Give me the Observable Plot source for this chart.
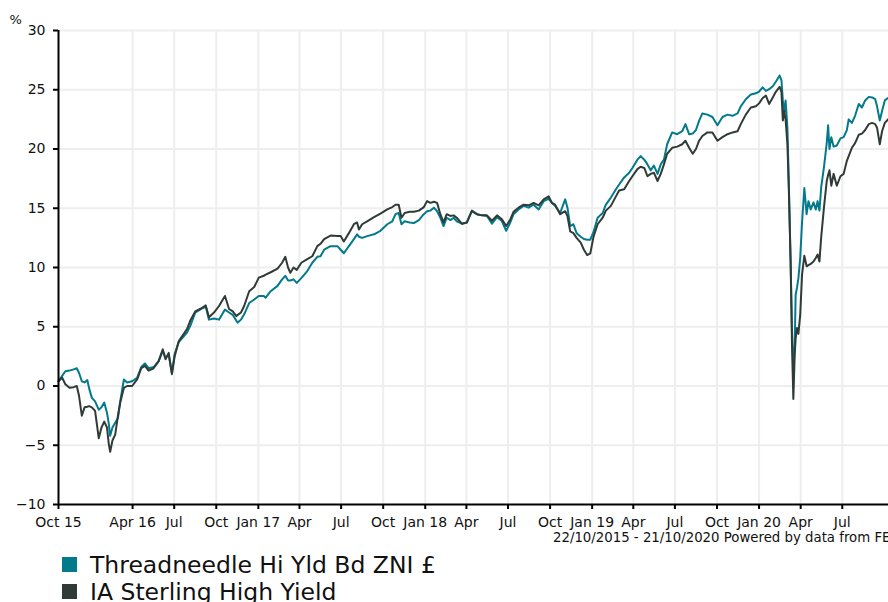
<!DOCTYPE html>
<html>
<head>
<meta charset="utf-8">
<script src="https://cdn.jsdelivr.net/npm/d3@7"></script>
<script src="https://cdn.jsdelivr.net/npm/@observablehq/plot@0.6"></script>
<style>
  html, body { margin: 0; padding: 0; background: #fff; overflow: hidden; width: 888px; height: 602px; }
  body { font-family: "DejaVu Sans", Verdana, sans-serif; position: relative; }
  #chart svg { max-width: none !important; display: block; }
  #caption { position: absolute; left: 553px; top: 531px; font-size: 13.3px; line-height: 13px; white-space: nowrap; color: #111; }
  .leg { position: absolute; left: 62px; font-size: 23.5px; line-height: 27px; white-space: nowrap; color: #111; }
  .sw { position: absolute; left: 0; width: 15px; height: 15px; }
  .lt { position: absolute; left: 28px; top: 0; }
</style>
</head>
<body>
<div id="chart"></div>
<div id="caption"></div>
<div id="legend"></div>
<script>
const dates = [
"2015-10-22","2015-10-30","2015-11-06","2015-11-15","2015-11-24","2015-12-01","2015-12-06","2015-12-12","2015-12-18","2015-12-24","2015-12-28",
"2016-01-03","2016-01-10","2016-01-18","2016-01-24","2016-01-30","2016-02-05","2016-02-09","2016-02-12","2016-02-17","2016-02-23","2016-02-29",
"2016-03-05","2016-03-13","2016-03-20","2016-03-31","2016-04-11","2016-04-20","2016-04-28","2016-05-06","2016-05-17","2016-05-28",
"2016-06-06","2016-06-12","2016-06-19","2016-06-26","2016-07-02","2016-07-11","2016-07-22","2016-07-29","2016-08-05","2016-08-16","2016-08-31",
"2016-09-08","2016-09-15","2016-09-26","2016-10-07","2016-10-20","2016-10-29","2016-11-06","2016-11-14","2016-11-17","2016-11-24",
"2016-12-01","2016-12-12","2016-12-23","2017-01-02","2017-01-13","2017-01-17","2017-01-28","2017-02-12","2017-02-22","2017-03-01",
"2017-03-07","2017-03-12","2017-03-19","2017-03-26","2017-04-05","2017-04-18","2017-04-29","2017-05-10","2017-05-17","2017-05-25",
"2017-06-08","2017-06-23","2017-06-30","2017-07-07","2017-07-18","2017-07-29","2017-08-05","2017-08-09","2017-08-16","2017-08-27",
"2017-09-11","2017-09-25","2017-10-10","2017-10-21","2017-10-28","2017-11-04","2017-11-10","2017-11-17","2017-11-28","2017-12-07",
"2017-12-18","2017-12-29","2018-01-05","2018-01-12","2018-01-20","2018-01-27","2018-02-03","2018-02-10","2018-02-17","2018-02-25",
"2018-03-04","2018-03-11","2018-03-22","2018-04-02","2018-04-13","2018-04-24","2018-05-05","2018-05-16","2018-05-27","2018-06-07",
"2018-06-17","2018-06-27","2018-07-06","2018-07-13","2018-07-24","2018-08-04","2018-08-15","2018-08-26","2018-09-06","2018-09-17",
"2018-09-28","2018-10-05","2018-10-12","2018-10-23","2018-11-03","2018-11-08","2018-11-14","2018-11-21","2018-11-28","2018-12-07",
"2018-12-14","2018-12-21","2018-12-28","2019-01-04","2019-01-13","2019-01-24","2019-01-31","2019-02-11","2019-02-22","2019-03-01",
"2019-03-12","2019-03-23","2019-03-30","2019-04-10","2019-04-17","2019-04-25","2019-05-02","2019-05-09","2019-05-16","2019-05-24",
"2019-05-31","2019-06-07","2019-06-14","2019-06-25","2019-07-06","2019-07-17","2019-07-24","2019-08-01","2019-08-09","2019-08-16",
"2019-08-23","2019-08-30","2019-09-10","2019-09-21","2019-10-02","2019-10-13","2019-10-24","2019-11-04","2019-11-15","2019-11-22",
"2019-12-03","2019-12-14","2019-12-25","2020-01-01","2020-01-09","2020-01-16","2020-01-23","2020-01-31","2020-02-07","2020-02-15",
"2020-02-19","2020-02-22","2020-02-25","2020-02-28","2020-03-03","2020-03-06","2020-03-10","2020-03-13","2020-03-16","2020-03-19",
"2020-03-21","2020-03-24","2020-03-27","2020-03-31","2020-04-04","2020-04-09","2020-04-14","2020-04-18","2020-04-23","2020-04-29",
"2020-05-04","2020-05-08","2020-05-12","2020-05-16","2020-05-22","2020-05-28","2020-05-31","2020-06-03","2020-06-07","2020-06-12",
"2020-06-19","2020-06-27","2020-07-04","2020-07-11","2020-07-15","2020-07-22","2020-07-29","2020-08-06","2020-08-13","2020-08-20",
"2020-08-28","2020-09-04","2020-09-11","2020-09-15","2020-09-21","2020-09-26","2020-10-02","2020-10-09","2020-10-21"
];

// Threadneedle Hi Yld Bd ZNI £ (cumulative %)
const fund = [
0.4,0.85,1.25,1.3,1.4,1.5,1.1,0.4,0.3,0.5,-0.2,
-1.0,-1.3,-2.0,-1.8,-1.4,-2.25,-3.2,-4.2,-3.5,-3.1,-2.7,
-1.3,0.55,0.3,0.4,0.7,1.6,1.9,1.5,1.6,2.1,
2.95,2.4,2.6,1.1,2.7,3.7,4.2,4.5,5.05,6.2,6.55,
6.7,5.6,5.7,5.6,6.45,6.2,6.0,5.5,5.35,5.6,
6.05,7.0,7.3,7.6,7.6,7.45,8.0,8.45,9.0,9.3,
8.9,8.9,9.0,8.7,9.1,9.7,10.4,10.9,10.95,11.5,
11.8,11.8,11.5,11.2,11.8,12.4,12.8,12.6,12.5,12.65,
12.8,13.1,13.65,13.9,14.5,14.6,13.65,13.9,13.8,13.75,
14.0,14.5,14.75,14.8,15.05,14.75,14.2,13.5,14.2,14.0,
14.2,13.9,13.7,13.8,14.75,14.5,14.4,14.35,13.7,14.25,
13.95,13.1,13.8,14.5,14.9,15.2,15.05,15.3,14.9,15.6,
15.8,15.45,15.2,14.6,15.75,15.05,13.5,13.65,12.9,12.6,
12.4,12.35,12.35,13.0,14.2,14.6,15.3,15.9,16.6,17.0,
17.6,18.0,18.4,19.1,19.4,19.1,18.7,18.2,18.6,17.9,
18.7,19.1,20.4,21.4,21.25,21.5,22.1,21.25,21.3,21.6,
22.4,23.0,22.9,22.7,22.0,22.7,22.9,22.8,23.0,23.6,
24.2,24.6,24.7,24.85,25.2,24.9,25.05,25.3,25.7,26.2,
25.8,24.1,23.1,24.1,21.8,17.3,10.5,4.9,1.0,3.5,
7.7,8.3,9.1,10.8,13.8,16.7,14.5,15.6,14.9,15.5,
14.9,15.6,14.8,16.8,18.5,20.5,22.0,20.0,21.0,20.2,
20.3,20.9,21.0,21.6,22.5,22.2,22.8,23.8,23.5,24.1,
24.4,24.35,24.2,23.6,22.4,23.2,24.1,24.3,24.6
];

// IA Sterling High Yield (cumulative %)
const sector = [
0.4,0.7,0.15,-0.15,-0.1,0.0,-0.85,-2.5,-1.8,-1.75,-1.7,
-1.8,-2.1,-4.4,-3.5,-3.0,-3.5,-4.9,-5.55,-4.6,-4.1,-2.5,
-1.4,-0.15,0.0,0.0,0.55,1.5,1.7,1.3,1.5,2.1,
3.1,2.25,2.8,1.0,2.5,3.8,4.4,4.8,5.5,6.3,6.6,
6.8,5.8,6.2,6.75,7.6,6.5,6.3,5.9,6.0,6.2,
6.75,8.0,8.35,9.15,9.3,9.4,9.6,9.9,10.4,10.9,
10.0,9.55,10.0,9.8,10.4,10.7,10.95,11.8,12.0,12.4,
12.7,12.65,12.65,12.2,12.9,13.65,13.8,13.2,13.65,13.9,
14.25,14.55,14.9,15.1,15.3,15.3,14.2,14.6,14.7,14.7,
14.8,15.1,15.6,15.45,15.55,15.45,14.5,13.8,14.5,14.35,
14.4,14.2,13.7,13.8,14.8,14.5,14.4,14.4,13.95,14.4,
14.1,13.5,14.05,14.7,15.05,15.3,15.25,15.45,15.25,15.75,
16.0,15.45,15.3,14.5,14.75,14.35,13.05,12.9,12.5,12.1,
11.5,11.05,11.2,12.6,13.65,14.2,14.8,15.2,16.0,16.5,
16.6,17.3,17.7,18.3,18.5,18.4,17.7,17.9,18.0,17.3,
17.9,18.7,19.6,20.1,20.2,20.4,20.7,20.1,19.6,20.0,
20.7,21.1,21.4,21.4,20.7,21.0,21.25,21.4,21.5,22.1,
22.9,23.5,23.6,23.85,24.3,24.5,23.8,24.35,24.85,25.25,
24.8,22.4,23.2,22.5,20.4,16.7,10.5,3.5,-1.1,2.7,
4.0,4.9,4.4,6.0,9.4,11.0,10.1,10.2,10.3,10.5,
10.8,11.1,10.5,12.6,15.1,17.3,17.8,18.2,16.9,17.9,
16.9,17.7,17.9,19.0,19.4,20.1,20.5,21.2,21.3,21.6,
22.1,22.2,22.1,21.8,20.4,21.5,22.2,22.5,22.8
];

const seriesNames = ["Threadneedle Hi Yld Bd ZNI £", "IA Sterling High Yield"];
const seriesColors = ["#037a8b", "#303b38"];

const xTickDates = ["2015-10-22","2016-04-01","2016-07-01","2016-10-01","2017-01-01","2017-04-01","2017-07-01","2017-10-01",
"2018-01-01","2018-04-01","2018-07-01","2018-10-01","2019-01-01","2019-04-01","2019-07-01","2019-10-01",
"2020-01-01","2020-04-01","2020-07-01"];
const xTickLabels = ["Oct 15","Apr 16","Jul","Oct","Jan 17","Apr","Jul","Oct","Jan 18","Apr","Jul","Oct",
"Jan 19","Apr","Jul","Oct","Jan 20","Apr","Jul"];
const yTicks = [-10, -5, 0, 5, 10, 15, 20, 25, 30];
const captionText = "22/10/2015 - 21/10/2020 Powered by data from FE";
const yUnit = "%";

const parse = s => new Date(s + "T00:00:00Z");
const data = dates.map((d, i) => ({date: parse(d), fund: fund[i], sector: sector[i]}));
const tickDates = xTickDates.map(parse);
const labelMap = new Map(tickDates.map((d, i) => [+d, xTickLabels[i]]));
const x0 = parse("2015-10-22"), x1 = parse("2020-10-21");

const chart = Plot.plot({
  width: 900,
  height: 540,
  marginLeft: 58,
  marginRight: 7,
  marginTop: 30,
  marginBottom: 36,
  style: {fontFamily: "'DejaVu Sans', Verdana, sans-serif", fontSize: "14px", color: "#111", background: "#fff", overflow: "visible"},
  x: {type: "utc", domain: [x0, x1]},
  y: {domain: [-10, 30]},
  marks: [
    Plot.gridX(tickDates.slice(1), {stroke: "#eeeeee", strokeOpacity: 1, strokeWidth: 2}),
    Plot.gridY(yTicks.slice(1), {stroke: "#eeeeee", strokeOpacity: 1, strokeWidth: 2}),
    Plot.lineY(data, {x: "date", y: "fund", stroke: seriesColors[0], strokeWidth: 2}),
    Plot.lineY(data, {x: "date", y: "sector", stroke: seriesColors[1], strokeWidth: 2}),
    Plot.axisX(tickDates, {tickFormat: d => labelMap.get(+d), tickSize: 5, tickPadding: 8, label: null, stroke: "#000", strokeWidth: 2, fill: "#111"}),
    Plot.axisY(yTicks, {tickSize: 5, tickPadding: 8, label: null, stroke: "#000", strokeWidth: 2, fill: "#111"}),
    Plot.ruleX([x0], {stroke: "#000", strokeWidth: 2}),
    Plot.ruleY([-10], {stroke: "#000", strokeWidth: 2}),
    Plot.text([yUnit], {frameAnchor: "top-left", text: d => d, dx: -49, dy: -16, textAnchor: "start", fontSize: 13, fill: "#111"})
  ]
});
document.getElementById("chart").appendChild(chart);
document.getElementById("caption").textContent = captionText;

const legend = document.getElementById("legend");
seriesNames.forEach((name, i) => {
  const row = document.createElement("div");
  row.className = "leg";
  row.style.top = (552 + i * 26.7) + "px";
  const sw = document.createElement("div");
  sw.className = "sw";
  sw.style.background = seriesColors[i];
  sw.style.top = "5px";
  const t = document.createElement("div");
  t.className = "lt";
  t.textContent = name;
  row.appendChild(sw);
  row.appendChild(t);
  legend.appendChild(row);
});
</script>
</body>
</html>
